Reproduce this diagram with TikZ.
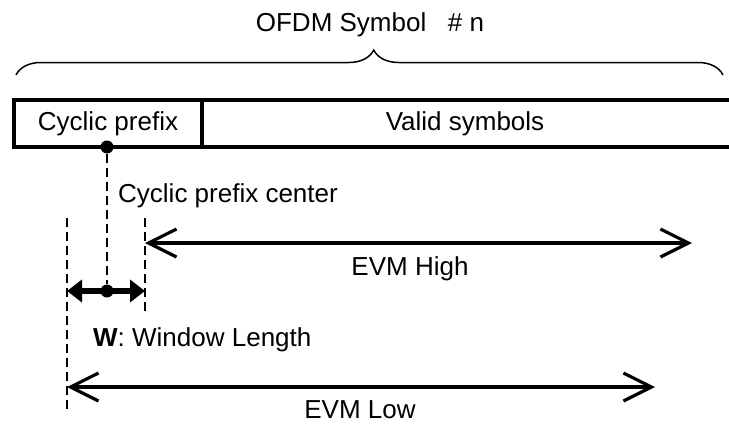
\documentclass[tikz,border=0pt]{standalone}
\usepackage{fontspec}
\setmainfont{Liberation Sans}
\usetikzlibrary{arrows.meta, positioning, decorations.pathreplacing}

\begin{document}
\begin{tikzpicture}[
  x=1pt, y=-1pt,
  >=Latex,
  txt/.style={font=\fontsize{26}{28}\selectfont, inner sep=0pt},
  frame/.style={line width=3.5pt},
  guide/.style={line width=2pt, dash pattern=on 9pt off 5pt},
  span/.style={{Straight Barb[length=28pt,width=28pt]}-{Straight Barb[length=28pt,width=28pt]}, line width=3.2pt},
  window/.style={{Triangle[length=15pt,width=22pt]}-{Triangle[length=15pt,width=22pt]}, line width=5.5pt},
  dot/.style={circle, fill, inner sep=0pt, minimum size=13pt}
]
\useasboundingbox (0,0) rectangle (729,424);

% ---------------------------------------------------
% Coordinate Grid
% ---------------------------------------------------
\def\xLeft{14}
\def\xSplit{202}
\def\xEnd{731}
\def\xCenter{107}
\def\xWinL{67}
\def\xWinR{145}

\def\yBrace{75}
\def\yBoxTop{100}
\def\yBoxBot{147}
\def\yHigh{243}
\def\yWin{291}
\def\yLow{387}

% ---------------------------------------------------
% 1. Symbol frame & brace
% ---------------------------------------------------
\node[txt] (title) at (370,25) {OFDM Symbol~~~\# n};

\coordinate (braceL) at (16,\yBrace);
\coordinate (braceR) at (723,\yBrace);
\draw[line width=1.5pt, decorate, decoration={brace, amplitude=25pt, aspect=0.506}] (braceL) -- (braceR);

\node[frame, draw, txt, outer sep=0pt, minimum width=188pt, minimum height=47pt, anchor=north west] (cp) at (\xLeft,\yBoxTop) {Cyclic prefix};
\coordinate (topEnd) at (\xEnd,\yBoxTop);
\coordinate (botEnd) at (\xEnd,\yBoxBot);
\draw[frame] (cp.north east) -- (topEnd);
\draw[frame] (cp.south east) -- (botEnd);

\node[txt] (valid) at (465,124) {Valid symbols};

% ---------------------------------------------------
% 2. Prefix center & window
% ---------------------------------------------------
\node[dot] (cpdot) at (\xCenter,\yBoxBot) {};
\node[dot] (windot) at (\xCenter,\yWin) {};
\draw[guide] (cpdot) -- (windot);

\node[txt, anchor=west] (cplabel) at (118,196) {Cyclic prefix center};

\coordinate (guideLtop) at (\xWinL,218);
\coordinate (guideLbot) at (\xWinL,412);
\coordinate (guideRtop) at (\xWinR,218);
\coordinate (guideRbot) at (\xWinR,315);
\draw[guide] (guideLtop) -- (guideLbot);
\draw[guide] (guideRtop) -- (guideRbot);

\coordinate (winL) at (\xWinL,\yWin);
\coordinate (winR) at (\xWinR,\yWin);
\draw[window] (winL) -- (winR);

\node[txt, anchor=west] (wlabel) at (93,340) {\textbf{W}: Window Length};

% ---------------------------------------------------
% 3. EVM spans
% ---------------------------------------------------
\coordinate (highL) at (\xWinR,\yHigh);
\coordinate (highR) at (692,\yHigh);
\draw[span] (highL) -- (highR);
\node[txt] (highlabel) at (410,269) {EVM High};

\coordinate (lowL) at (\xWinL,\yLow);
\coordinate (lowR) at (655,\yLow);
\draw[span] (lowL) -- (lowR);
\node[txt] (lowlabel) at (360,410) {EVM Low};

\end{tikzpicture}
\end{document}
